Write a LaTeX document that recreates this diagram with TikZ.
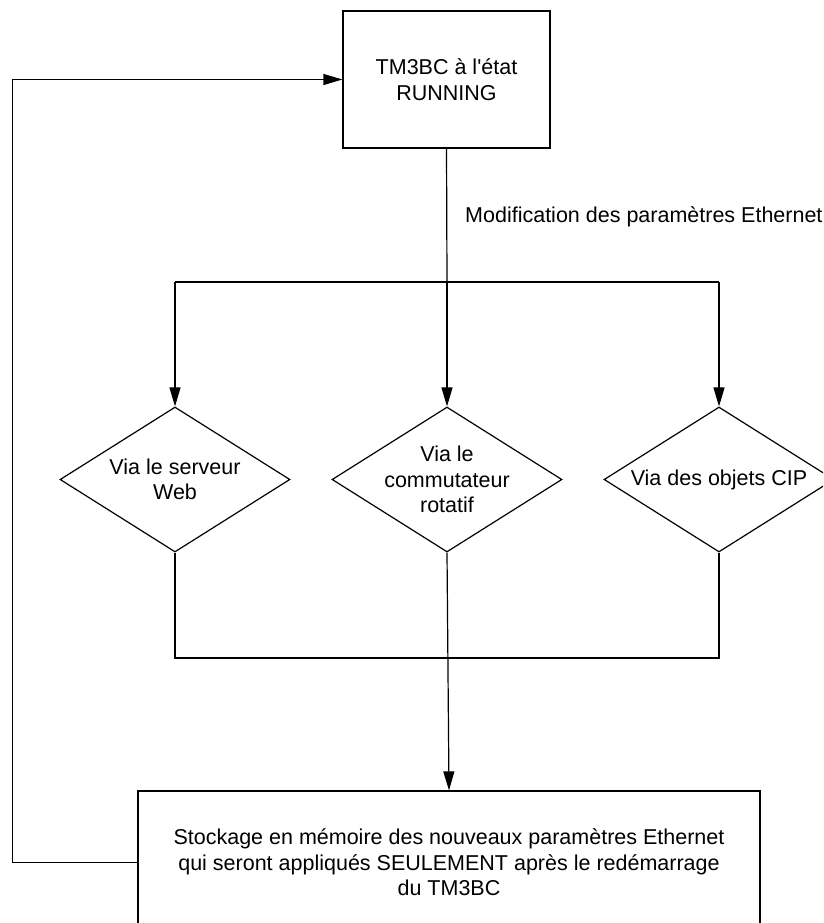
\documentclass[tikz,border=0pt]{standalone}
\usepackage{fontspec}
\setmainfont{Liberation Sans}
\usetikzlibrary{arrows.meta,shapes.geometric}
\tikzset{
  base/.style={font=\fontsize{21.5}{25.5}\selectfont, align=center},
  boxnode/.style={base, draw, line width=1.2pt, inner sep=0pt},
  diam/.style={draw, diamond, line width=1.2pt, inner sep=0pt, minimum width=230pt, minimum height=145pt},
  conn/.style={line width=1.2pt},
  arr/.style={line width=1.2pt, -{Triangle[length=19pt,width=11pt]}},
}
\begin{document}
\begin{tikzpicture}[x=1pt,y=-1pt]
\path[use as bounding box, clip] (0,0) rectangle (823,923);
\fill[white] (0,0) rectangle (823,923);
% boxes
\node[boxnode, minimum width=207pt, minimum height=137pt] (top) at (446.5,79.5) {TM3BC à l\textquotesingle état\\RUNNING};
\node[boxnode, minimum width=622pt, minimum height=143pt] (bot) at (449,862.5) {Stockage en mémoire des nouveaux paramètres Ethernet\\qui seront appliqués SEULEMENT après le redémarrage\\du TM3BC};
% diamonds
\node[diam] (d1) at (175,479.5) {};
\node[diam] (d2) at (447,479.5) {};
\node[diam] (d3) at (719,479.5) {};
\node[base] (t1) at (d1) {Via le serveur\\Web};
\node[base] (t2) at (d2) {Via le\\commutateur\\rotatif};
\node[base] (t3) at (d3) {Via des objets CIP};
% label
\node[base, anchor=base west, inner sep=0pt] (lab) at (465,222) {Modification des paramètres Ethernet};
% junctions
\coordinate (j1) at (447,282);
\coordinate (jl) at (175,282);
\coordinate (jr) at (719,282);
\coordinate (k1) at (447,658);
\coordinate (kl) at (175,658);
\coordinate (kr) at (719,658);
\coordinate (fb) at (12.6,862.5);
% connectors
\draw[conn] (top.south) -- (j1);
\draw[conn] (jl) -- (jr);
\draw[arr] (jl) -- (d1.north);
\draw[arr] (j1) -- (d2.north);
\draw[arr] (jr) -- (d3.north);
\draw[conn] (d1.south) -- (kl) -- (kr) -- (d3.south);
\draw[arr] (d2.south) -- (bot.north);
\draw[arr] (bot.west) -- (fb) |- (top.west);
\end{tikzpicture}
\end{document}
